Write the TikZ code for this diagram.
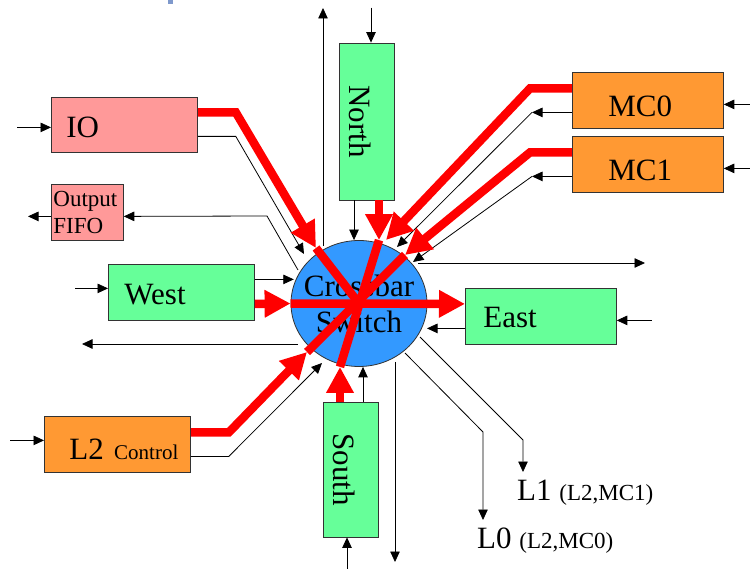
\documentclass[tikz,border=0pt]{standalone}
\usepackage{fontspec}
\setmainfont{Liberation Serif}
\usetikzlibrary{arrows.meta}
\usetikzlibrary{shapes.geometric}

\definecolor{nodegreen}{HTML}{66FF99}
\definecolor{iopink}{HTML}{FF9999}
\definecolor{mcorange}{HTML}{FF9933}
\definecolor{xbarblue}{HTML}{3399FF}
\definecolor{titleblue}{HTML}{7F99CC}

\newcommand\boxfont{\fontsize{31}{36}\selectfont}
\newcommand\subfont{\fontsize{23}{27}\selectfont}
\newcommand\ctrlfont{\fontsize{21}{25}\selectfont}
\newcommand\fifofont{\fontsize{23}{27}\selectfont}

\begin{document}
\begin{tikzpicture}[x=1pt, y=-1pt]

  \tikzset{box/.style = {draw=black!80, line width=0.8pt, anchor=north west, inner ysep=0pt, align=left, text depth=0pt, font=\boxfont}}
  \tikzset{vbox/.style = {draw=black!80, line width=0.8pt, fill=nodegreen, rotate=-90, inner sep=0pt, minimum height=55pt, text height=35pt, text depth=0pt, font=\boxfont}}
  \tikzset{wire/.style = {-{Triangle[width=9.5pt,length=10.5pt]}, line width=0.8pt}}
  \tikzset{bus/.style = {red, line width=8.5pt}}
  \tikzset{busarrow/.style = {bus, -{Triangle[width=26pt,length=26pt]}}}
  \useasboundingbox (0,0) rectangle (750,569);
  \fill[titleblue] (168,0) rectangle (173,4);
  % blocks
  \node[box, fill=iopink, inner xsep=15pt, text width=116pt, minimum height=55pt, text height=25pt] (io) at (51,97) {IO};
  \node[box, fill=iopink, inner xsep=2pt, text width=68pt, minimum height=56pt, text depth=27pt, font=\fifofont] (fifo) at (51,184) {Output\\FIFO};
  \node[box, fill=nodegreen, inner xsep=16pt, text width=114pt, minimum height=56pt, text height=25pt] (west) at (108,264) {West};
  \node[box, fill=nodegreen, inner xsep=18pt, text width=115pt, minimum height=56pt, text height=22pt] (east) at (465,288) {East};
  \node[box, fill=mcorange, inner xsep=36pt, text width=79pt, minimum height=56pt, text height=33pt] (mc0) at (572,72) {MC0};
  \node[box, fill=mcorange, inner xsep=36pt, text width=79pt, minimum height=56pt, text height=33pt] (mc1) at (572,136) {MC1};
  \node[box, fill=mcorange, inner xsep=25pt, text width=96pt, minimum height=56pt, text height=30pt] (l2) at (44,416) {\mbox{L2 {\ctrlfont Control}}};
  \node[vbox, minimum width=157pt] (north) at (366.5,121.5) {North};
  \node[vbox, minimum width=135pt] (south) at (350.5,469.5) {South};
  \node[ellipse, draw=black!80, line width=0.8pt, fill=xbarblue, minimum width=136pt, minimum height=126pt, inner sep=0pt,
        label={[font=\boxfont, align=center]center:{Crossbar\\Switch}}] (cb) at (359,303.5) {};
  % ports at the switch
  \coordinate (ioT)    at (304,254);
  \coordinate (ioR)    at (316,248);
  \coordinate (fifoS)  at (298,270);
  \coordinate (upS)    at (323,246);
  \coordinate (mc0T)   at (397,247);
  \coordinate (mc0R)   at (386,240);
  \coordinate (mc1T)   at (413,262);
  \coordinate (mc1R)   at (405,255);
  \coordinate (rightS) at (418,263);
  \coordinate (leftS)  at (298,344);
  \coordinate (l2T)    at (322,363);
  \coordinate (l2R)    at (307,352);
  \coordinate (downS)  at (395,362);
  \coordinate (l0S)    at (405,353);
  \coordinate (l1S)    at (420,337);
  % thin wires
  \draw[wire] ([xshift=-34pt,yshift=-2.5pt]io.west) -- ([yshift=-2.5pt]io.west);
  \draw[wire] ([yshift=-11.5pt]io.east) -- ++(38,0) -- (ioT);
  \draw[wire] (fifoS) -- ++(-31,-54) -- ([yshift=-4pt]fifo.east);
  \draw[wire] ([yshift=-4pt]fifo.west) -- ++(-23,0);
  \draw[wire] (upS) -- ++(0,-238);
  \draw[wire] ([xshift=4.5pt,yshift=35pt]north.west) -- ([xshift=4.5pt]north.west);
  \draw[wire] ([xshift=-12.5pt]north.east) -- ([xshift=-12.5pt]north.east |- cb.north);
  \draw[wire] ([xshift=27pt,yshift=-4pt]mc0.east) -- ([yshift=-4pt]mc0.east);
  \draw[wire] ([yshift=-12pt]mc0.west) -- ++(-40,0) coordinate (mc0K);
  \draw[wire] (mc0K) -- (mc0T);
  \draw[wire] ([xshift=27pt,yshift=-4pt]mc1.east) -- ([yshift=-4pt]mc1.east);
  \draw[wire] ([yshift=-12pt]mc1.west) -- ++(-40,0) coordinate (mc1K);
  \draw[wire] (mc1K) -- (mc1T);
  \draw[wire] (rightS) -- ++(227,0);
  \draw[wire] ([xshift=-33pt,yshift=4pt]west.west) -- ([yshift=4pt]west.west);
  \draw[wire] ([yshift=13pt]west.east) -- ++(39,0);
  \draw[wire] (leftS) -- ++(-216,0);
  \draw[wire] ([xshift=35pt,yshift=-4pt]east.east) -- ([yshift=-4pt]east.east);
  \draw[wire] ([yshift=-12pt]east.west) -- ++(-38,0);
  \draw[wire] ([xshift=-34pt,yshift=4pt]l2.west) -- ([yshift=4pt]l2.west);
  \draw[wire] ([yshift=-12pt]l2.east) -- ++(38,0) -- (l2T);
  \draw[wire] ([xshift=12.5pt]south.west) -- ([xshift=12.5pt]south.west |- cb.south);
  \draw[wire] ([xshift=-3.5pt,yshift=-32pt]south.east) -- ([xshift=-3.5pt]south.east);
  \draw[wire] (downS) -- ++(0,200);
  \draw[wire] (l0S) -- ++(78,79) -- ++(0,88);
  \draw[wire] (l1S) -- ++(103,103) -- ++(0,32);
  % crossbar paths
  \draw[busarrow] ([yshift=12.5pt]io.east) -- ++(38,0) -- (ioR);
  \draw[busarrow] ([yshift=12pt]mc0.west) -- ++(-42,0) -- (mc0R);
  \draw[busarrow] ([yshift=12pt]mc1.west) -- ++(-42,0) -- (mc1R);
  \draw[busarrow] ([yshift=12pt]l2.east) -- ++(38,0) -- (l2R);
  \draw[busarrow] ([yshift=-11.5pt]west.east) -- (cb.west);
  \draw[busarrow] ([xshift=12.5pt]north.east) -- ([xshift=12.5pt]north.east |- cb.north) coordinate (nR);
  \draw[busarrow] ([xshift=-10.5pt]south.west) -- ([xshift=-10.5pt]south.west |- cb.south) coordinate (sR);
  \draw[busarrow] (cb.west) -- ([yshift=12.5pt]east.west);
  \draw[bus] (ioR) -- (cb.center);
  \draw[bus] (nR) -- (sR);
  \draw[bus] (mc1R) -- (l2R);
  % output labels
  \node[anchor=base west, inner sep=0pt, font=\boxfont] (l1lab) at (517,500) {L1 {\subfont (L2,MC1)}};
  \node[anchor=base west, inner sep=0pt, font=\boxfont] (l0lab) at (477,548) {L0 {\subfont (L2,MC0)}};
\end{tikzpicture}
\end{document}
